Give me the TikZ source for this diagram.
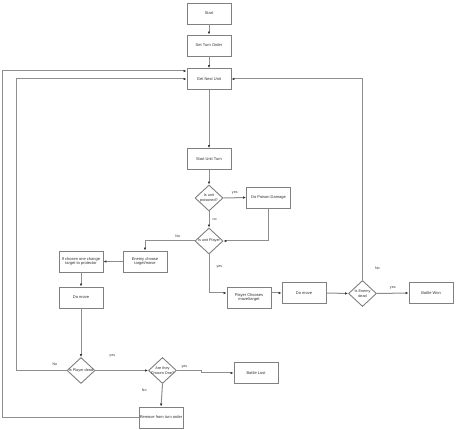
\documentclass[tikz,border=0pt]{standalone}
\usepackage{fontspec}
\setmainfont{Liberation Sans}
\usepackage{xcolor}
\usetikzlibrary{shapes.geometric,arrows.meta}
\definecolor{linegray}{HTML}{8E8E8E}
\definecolor{boxgray}{HTML}{808080}
\definecolor{textgray}{HTML}{2F2F2F}
\tikzset{
  process/.style={draw=boxgray, line width=0.9pt, minimum width=44pt, minimum height=21pt,
                  inner sep=0pt, align=center, text=textgray, font=\fontsize{4}{4.8}\selectfont},
  decision/.style={diamond, draw=boxgray, line width=0.9pt, minimum width=28pt, minimum height=26pt,
                   inner sep=0pt},
  every label/.style={align=center, text=textgray, font=\fontsize{3.8}{4.6}\selectfont},
  flow/.style={draw=linegray, line width=1pt, -{Latex[length=3pt,width=2.6pt,color=black!80]}},
  flowlabel/.style={text=textgray, font=\fontsize{3.6}{4}\selectfont, inner sep=1pt}
}
\begin{document}
\begin{tikzpicture}[x=1pt, y=-1pt]
  \useasboundingbox (0,0) rectangle (469,430);
  \fill[white] (0,0) rectangle (469,430);
  % main column
  \node[process] (start) at (209,13.5) {Start};
  \node[process] (setorder) at (209,45.5) {Set Turn Order};
  \node[process] (getnext) at (209,79) {Get Next Unit};
  \node[process] (startturn) at (209,159) {Start Unit Turn};
  \node[decision, label=center:{Is unit\\poisoned?}] (poisoned) at (209,198) {};
  \node[process] (poison) at (268.5,197.5) {Do Poison Damage};
  \node[decision, label=center:{Is unit Player}] (isplayer) at (209,241) {};
  % enemy side
  \node[process] (enemychoose) at (145,261.5) {Enemy choose\\target/move};
  \node[process] (ifchosen) at (81,261.5) {If chosen one change\\target to protector};
  \node[process] (domoveleft) at (81,297.5) {Do move};
  \node[decision, label=center:{Is Player dead}] (playerdead) at (81,370.5) {};
  \node[decision, label=center:{Are they\\Chosen One?}] (chosenone) at (162.5,370.5) {};
  \node[process] (battlelost) at (256,373) {Battle Lost};
  \node[process] (removeunit) at (161,417.5) {Remove from turn order};
  % player side
  \node[process] (playerchoose) at (249,297.5) {Player Chooses\\move/target};
  \node[process] (domoveright) at (304,293) {Do move};
  \node[decision, label=center:{Is Enemy\\dead}] (enemydead) at (362.5,293.5) {};
  \node[process] (battlewon) at (431,293) {Battle Won};
  % loop lines
  \coordinate (innerloop) at (16,0);
  \coordinate (outerloop) at (2,0);

  \draw[flow] (start) -- (setorder);
  \draw[flow] (setorder) -- (getnext);
  \draw[flow] (getnext) -- (startturn);
  \draw[flow] (startturn) -- (poisoned);
  \draw[flow] (poisoned.east) -- node[flowlabel, above=2pt] {yes} (poison.west);
  \draw[flow] (poison.south) |- (isplayer.east);
  \draw[flow] (poisoned.south) -- node[flowlabel, right=2pt] {no} (isplayer.north);
  \draw[flow] (isplayer.west) -| node[flowlabel, above=2pt, pos=0.17] {No} (enemychoose.north);
  \draw[flow] (enemychoose) -- (ifchosen);
  \draw[flow] (ifchosen) -- (domoveleft);
  \draw[flow] (domoveleft) -- (playerdead);
  \draw[flow] (playerdead.west) -- node[flowlabel, above=3pt, pos=0.23] {No} (playerdead.west -| innerloop)
              |- (getnext.west);
  \draw[flow] (playerdead.east) -- node[flowlabel, above=12pt, pos=0.32] {yes} (chosenone.west);
  \draw[flow] (chosenone.east) -- node[flowlabel, above=0.5pt, pos=0.3] {yes} ++(25,0)
              |- (battlelost.west);
  \draw[flow] (chosenone.south) -- node[flowlabel, left=14pt, pos=0.28] {No} (removeunit.north);
  \draw[flow] (removeunit.west) -- (removeunit.west -| outerloop) |- ([yshift=8pt]getnext.west);
  \draw[flow] (isplayer.south) |- node[flowlabel, right=6pt, pos=0.16] {yes} (playerchoose.west |- domoveright.west);
  \draw[flow] (playerchoose.east |- domoveright.west) -- (domoveright.west);
  \draw[flow] (domoveright.east) -- (enemydead.west);
  \draw[flow] (enemydead.east) -- node[flowlabel, above=3pt] {yes} (battlewon.west);
  \draw[flow] (enemydead.north) |- node[flowlabel, right=11pt, pos=0.03] {No} (getnext.east);
\end{tikzpicture}
\end{document}
